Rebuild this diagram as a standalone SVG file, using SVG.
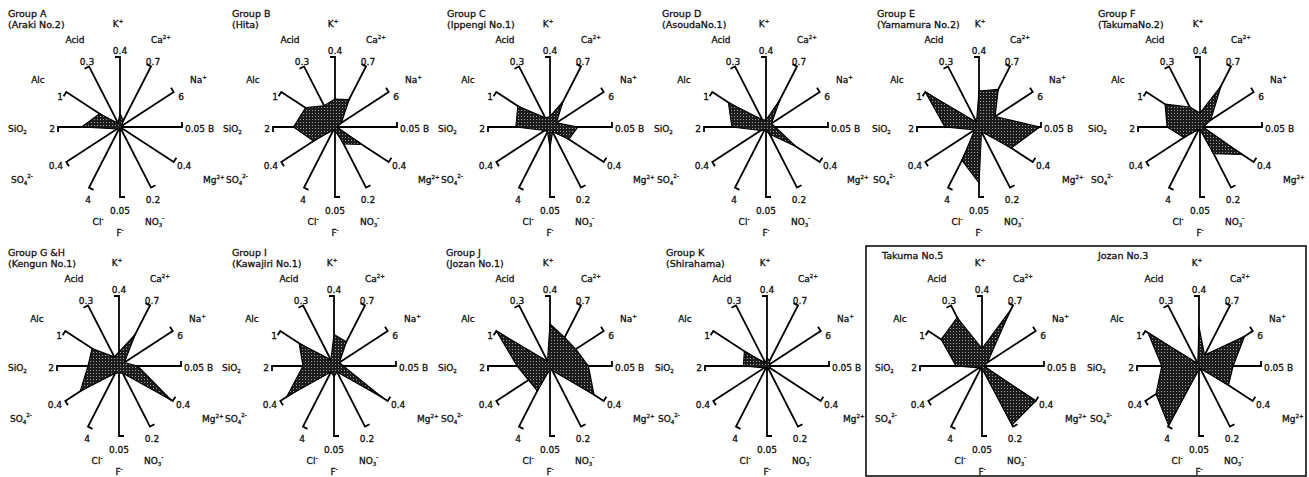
<svg xmlns="http://www.w3.org/2000/svg" xmlns:xlink="http://www.w3.org/1999/xlink" width="1309" height="477" viewBox="0 0 1309 477">
<style>
.t{font-family:"DejaVu Sans",sans-serif;font-size:9px;fill:#111;stroke:#111;stroke-width:0.3}
.m{text-anchor:middle}
.e{text-anchor:end}
.s{font-size:5.5px}
.ttl{font-family:"DejaVu Sans",sans-serif;font-size:9.5px;fill:#111;stroke:#111;stroke-width:0.3}
.ax{fill:none;stroke:#000;stroke-width:1.8}
.d{fill:url(#dots);stroke:#000;stroke-width:1.2;stroke-linejoin:round}
</style>
<defs>
<pattern id="dots" width="3" height="3" patternUnits="userSpaceOnUse"><rect width="3" height="3" fill="#1c1c1c"/><rect x="1" y="1" width="1" height="1" fill="#a0a0a0"/></pattern>
<path id="ax" class="ax" d="M0 0V-70h-5M0 0L31 -60.6l-4.5 -2.3M0 0L53.7 -35l-2.7 -4.2M0 0H62v-5M0 0L53.7 35l2.7 -4.2M0 0L31 60.6l4.5 -2.3M0 0V70h5M0 0L-31 60.6l4.5 2.3M0 0L-53.7 35l2.7 4.2M0 0H-62v5M0 0L-53.7 -35l-2.7 4.2M0 0L-31 -60.6l-4.5 2.3"/>
</defs>
<rect width="1309" height="477" fill="#fff"/>
<rect x="866" y="246" width="440" height="230" fill="none" stroke="#000" stroke-width="1.5"/>

<g id="chartA" transform="translate(120,127)">
<use href="#ax" xlink:href="#ax"/>
<polygon class="d" points="0,-14 3.1,-6.1 1.6,-1.1 1.9,0 1.6,1.1 0.9,1.8 0,2.8 -0.9,1.8 -2.7,1.8 -38.4,0 -20.4,-13.3 -1.9,-3.6"/>
<text class="ttl" x="-112" y="-110">Group A</text><text class="ttl" x="-112" y="-99">(Araki No.2)</text>
<text class="t m" x="-2" y="-100">K<tspan class="s" dy="-4">+</tspan></text>
<text class="t m" x="-45" y="-84">Acid</text>
<text class="t" x="31" y="-84">Ca<tspan class="s" dy="-4">2+</tspan></text>
<text class="t m" x="0" y="-73">0.4</text>
<text class="t m" x="-33" y="-62">0.3</text>
<text class="t m" x="33" y="-62">0.7</text>
<text class="t m" x="-82" y="-44">Alc</text>
<text class="t" x="70" y="-44">Na<tspan class="s" dy="-4">+</tspan></text>
<text class="t m" x="-60" y="-27">1</text>
<text class="t m" x="61" y="-27">6</text>
<text class="t" x="-112" y="5">SiO<tspan class="s" dy="2">2</tspan></text>
<text class="t m" x="-68" y="5">2</text>
<text class="t" x="65" y="5">0.05 B</text>
<text class="t e" x="-57" y="42">0.4</text>
<text class="t" x="57" y="42">0.4</text>
<text class="t" x="-109" y="56">SO<tspan class="s" dy="2">4</tspan><tspan class="s" dy="-7">2-</tspan></text>
<text class="t" x="83" y="56">Mg<tspan class="s" dy="-4">2+</tspan></text>
<text class="t m" x="-32" y="76">4</text>
<text class="t m" x="33" y="76">0.2</text>
<text class="t m" x="0" y="87">0.05</text>
<text class="t m" x="-22" y="98">Cl<tspan class="s" dy="-4">-</tspan></text>
<text class="t" x="25" y="98">NO<tspan class="s" dy="2">3</tspan><tspan class="s" dy="-7">-</tspan></text>
<text class="t m" x="0" y="109">F<tspan class="s" dy="-4">-</tspan></text>
</g>

<g id="chartB" transform="translate(335,127)">
<use href="#ax" xlink:href="#ax"/>
<polygon class="d" points="0,-28 14,-27.3 6.4,-4.2 1.9,0 26.9,17.5 8.7,17 0,3.5 -1.6,3 -21.5,14 -41.5,0 -29.5,-19.3 -10.9,-21.2"/>
<text class="ttl" x="-103" y="-110">Group B</text><text class="ttl" x="-103" y="-99">(Hita)</text>
<text class="t m" x="-2" y="-100">K<tspan class="s" dy="-4">+</tspan></text>
<text class="t m" x="-45" y="-84">Acid</text>
<text class="t" x="31" y="-84">Ca<tspan class="s" dy="-4">2+</tspan></text>
<text class="t m" x="0" y="-73">0.4</text>
<text class="t m" x="-33" y="-62">0.3</text>
<text class="t m" x="33" y="-62">0.7</text>
<text class="t m" x="-82" y="-44">Alc</text>
<text class="t" x="70" y="-44">Na<tspan class="s" dy="-4">+</tspan></text>
<text class="t m" x="-60" y="-27">1</text>
<text class="t m" x="61" y="-27">6</text>
<text class="t" x="-112" y="5">SiO<tspan class="s" dy="2">2</tspan></text>
<text class="t m" x="-68" y="5">2</text>
<text class="t" x="65" y="5">0.05 B</text>
<text class="t e" x="-57" y="42">0.4</text>
<text class="t" x="57" y="42">0.4</text>
<text class="t" x="-109" y="56">SO<tspan class="s" dy="2">4</tspan><tspan class="s" dy="-7">2-</tspan></text>
<text class="t" x="83" y="56">Mg<tspan class="s" dy="-4">2+</tspan></text>
<text class="t m" x="-32" y="76">4</text>
<text class="t m" x="33" y="76">0.2</text>
<text class="t m" x="0" y="87">0.05</text>
<text class="t m" x="-22" y="98">Cl<tspan class="s" dy="-4">-</tspan></text>
<text class="t" x="25" y="98">NO<tspan class="s" dy="2">3</tspan><tspan class="s" dy="-7">-</tspan></text>
<text class="t m" x="0" y="109">F<tspan class="s" dy="-4">-</tspan></text>
</g>

<g id="chartC" transform="translate(550,127)">
<use href="#ax" xlink:href="#ax"/>
<polygon class="d" points="0,-10.5 13,-25.5 6.4,-4.2 27.9,0 18.8,12.3 2.5,4.8 0,21 -2.5,4.8 -5.4,3.5 -34.1,0 -32.2,-21 -4.7,-9.1"/>
<text class="ttl" x="-103" y="-110">Group C</text><text class="ttl" x="-103" y="-99">(Ippengi No.1)</text>
<text class="t m" x="-2" y="-100">K<tspan class="s" dy="-4">+</tspan></text>
<text class="t m" x="-45" y="-84">Acid</text>
<text class="t" x="31" y="-84">Ca<tspan class="s" dy="-4">2+</tspan></text>
<text class="t m" x="0" y="-73">0.4</text>
<text class="t m" x="-33" y="-62">0.3</text>
<text class="t m" x="33" y="-62">0.7</text>
<text class="t m" x="-82" y="-44">Alc</text>
<text class="t" x="70" y="-44">Na<tspan class="s" dy="-4">+</tspan></text>
<text class="t m" x="-60" y="-27">1</text>
<text class="t m" x="61" y="-27">6</text>
<text class="t" x="-112" y="5">SiO<tspan class="s" dy="2">2</tspan></text>
<text class="t m" x="-68" y="5">2</text>
<text class="t" x="65" y="5">0.05 B</text>
<text class="t e" x="-57" y="42">0.4</text>
<text class="t" x="57" y="42">0.4</text>
<text class="t" x="-109" y="56">SO<tspan class="s" dy="2">4</tspan><tspan class="s" dy="-7">2-</tspan></text>
<text class="t" x="83" y="56">Mg<tspan class="s" dy="-4">2+</tspan></text>
<text class="t m" x="-32" y="76">4</text>
<text class="t m" x="33" y="76">0.2</text>
<text class="t m" x="0" y="87">0.05</text>
<text class="t m" x="-22" y="98">Cl<tspan class="s" dy="-4">-</tspan></text>
<text class="t" x="25" y="98">NO<tspan class="s" dy="2">3</tspan><tspan class="s" dy="-7">-</tspan></text>
<text class="t m" x="0" y="109">F<tspan class="s" dy="-4">-</tspan></text>
</g>

<g id="chartD" transform="translate(766,127)">
<use href="#ax" xlink:href="#ax"/>
<polygon class="d" points="0,-7 14,-27.3 5.4,-3.5 9.3,0 29.5,19.3 3.7,7.3 0,3.5 -1.6,3 -5.4,3.5 -34.1,0 -37.6,-24.5 -3.7,-7.3"/>
<text class="ttl" x="-104" y="-110">Group D</text><text class="ttl" x="-104" y="-99">(AsoudaNo.1)</text>
<text class="t m" x="-2" y="-100">K<tspan class="s" dy="-4">+</tspan></text>
<text class="t m" x="-45" y="-84">Acid</text>
<text class="t" x="31" y="-84">Ca<tspan class="s" dy="-4">2+</tspan></text>
<text class="t m" x="0" y="-73">0.4</text>
<text class="t m" x="-33" y="-62">0.3</text>
<text class="t m" x="33" y="-62">0.7</text>
<text class="t m" x="-82" y="-44">Alc</text>
<text class="t" x="70" y="-44">Na<tspan class="s" dy="-4">+</tspan></text>
<text class="t m" x="-60" y="-27">1</text>
<text class="t m" x="61" y="-27">6</text>
<text class="t" x="-112" y="5">SiO<tspan class="s" dy="2">2</tspan></text>
<text class="t m" x="-68" y="5">2</text>
<text class="t" x="65" y="5">0.05 B</text>
<text class="t e" x="-57" y="42">0.4</text>
<text class="t" x="57" y="42">0.4</text>
<text class="t" x="-109" y="56">SO<tspan class="s" dy="2">4</tspan><tspan class="s" dy="-7">2-</tspan></text>
<text class="t" x="81" y="56">Mg<tspan class="s" dy="-4">2+</tspan></text>
<text class="t m" x="-32" y="76">4</text>
<text class="t m" x="33" y="76">0.2</text>
<text class="t m" x="0" y="87">0.05</text>
<text class="t m" x="-22" y="98">Cl<tspan class="s" dy="-4">-</tspan></text>
<text class="t" x="25" y="98">NO<tspan class="s" dy="2">3</tspan><tspan class="s" dy="-7">-</tspan></text>
<text class="t m" x="0" y="109">F<tspan class="s" dy="-4">-</tspan></text>
</g>

<g id="chartE" transform="translate(979,127)">
<use href="#ax" xlink:href="#ax"/>
<polygon class="d" points="0,-36 19.2,-37.6 16.1,-10.5 60.8,0 32.2,21 2.5,4.8 0,56 -17,33.3 -4.3,2.8 -34.1,0 -53.7,-35 -2.5,-4.8"/>
<text class="ttl" x="-102" y="-110">Group E</text><text class="ttl" x="-102" y="-99">(Yamamura No.2)</text>
<text class="t m" x="1" y="-100">K<tspan class="s" dy="-4">+</tspan></text>
<text class="t m" x="-45" y="-84">Acid</text>
<text class="t" x="31" y="-84">Ca<tspan class="s" dy="-4">2+</tspan></text>
<text class="t m" x="0" y="-73">0.4</text>
<text class="t m" x="-33" y="-62">0.3</text>
<text class="t m" x="33" y="-62">0.7</text>
<text class="t m" x="-82" y="-44">Alc</text>
<text class="t" x="70" y="-44">Na<tspan class="s" dy="-4">+</tspan></text>
<text class="t m" x="-60" y="-27">1</text>
<text class="t m" x="61" y="-27">6</text>
<text class="t" x="-107" y="5">SiO<tspan class="s" dy="2">2</tspan></text>
<text class="t m" x="-68" y="5">2</text>
<text class="t" x="65" y="5">0.05 B</text>
<text class="t e" x="-57" y="42">0.4</text>
<text class="t" x="57" y="42">0.4</text>
<text class="t" x="-106" y="56">SO<tspan class="s" dy="2">4</tspan><tspan class="s" dy="-7">2-</tspan></text>
<text class="t" x="83" y="56">Mg<tspan class="s" dy="-4">2+</tspan></text>
<text class="t m" x="-32" y="76">4</text>
<text class="t m" x="33" y="76">0.2</text>
<text class="t m" x="0" y="87">0.05</text>
<text class="t m" x="-22" y="98">Cl<tspan class="s" dy="-4">-</tspan></text>
<text class="t" x="25" y="98">NO<tspan class="s" dy="2">3</tspan><tspan class="s" dy="-7">-</tspan></text>
<text class="t m" x="0" y="109">F<tspan class="s" dy="-4">-</tspan></text>
</g>

<g id="chartF" transform="translate(1200,127)">
<use href="#ax" xlink:href="#ax"/>
<polygon class="d" points="0,-14 21.1,-41.2 10.7,-7 3.1,0 41.9,27.3 13.6,26.7 0,2.8 -1.2,2.4 -16.1,10.5 -32.9,0 -34.9,-22.8 -10.2,-20"/>
<text class="ttl" x="-102" y="-110">Group F</text><text class="ttl" x="-102" y="-99">(TakumaNo.2)</text>
<text class="t m" x="-2" y="-100">K<tspan class="s" dy="-4">+</tspan></text>
<text class="t m" x="-45" y="-84">Acid</text>
<text class="t" x="31" y="-84">Ca<tspan class="s" dy="-4">2+</tspan></text>
<text class="t m" x="0" y="-73">0.4</text>
<text class="t m" x="-33" y="-62">0.3</text>
<text class="t m" x="33" y="-62">0.7</text>
<text class="t m" x="-82" y="-44">Alc</text>
<text class="t" x="70" y="-44">Na<tspan class="s" dy="-4">+</tspan></text>
<text class="t m" x="-60" y="-27">1</text>
<text class="t m" x="61" y="-27">6</text>
<text class="t" x="-112" y="5">SiO<tspan class="s" dy="2">2</tspan></text>
<text class="t m" x="-68" y="5">2</text>
<text class="t" x="65" y="5">0.05 B</text>
<text class="t e" x="-57" y="42">0.4</text>
<text class="t" x="57" y="42">0.4</text>
<text class="t" x="-109" y="56">SO<tspan class="s" dy="2">4</tspan><tspan class="s" dy="-7">2-</tspan></text>
<text class="t" x="83" y="56">Mg<tspan class="s" dy="-4">2+</tspan></text>
<text class="t m" x="-32" y="76">4</text>
<text class="t m" x="33" y="76">0.2</text>
<text class="t m" x="0" y="87">0.05</text>
<text class="t m" x="-22" y="98">Cl<tspan class="s" dy="-4">-</tspan></text>
<text class="t" x="25" y="98">NO<tspan class="s" dy="2">3</tspan><tspan class="s" dy="-7">-</tspan></text>
<text class="t m" x="0" y="109">F<tspan class="s" dy="-4">-</tspan></text>
</g>

<g id="chartG" transform="translate(119,366)">
<use href="#ax" xlink:href="#ax"/>
<polygon class="d" points="0,-14 16.1,-31.5 5.4,-3.5 18.6,0 52.6,34.3 3.7,7.3 0,7 -3.7,7.3 -38.7,25.2 -31,0 -26.9,-17.5 -4.7,-9.1"/>
<text class="ttl" x="-111" y="-110">Group G &amp;H</text><text class="ttl" x="-111" y="-99">(Kengun No.1)</text>
<text class="t m" x="-2" y="-100">K<tspan class="s" dy="-4">+</tspan></text>
<text class="t m" x="-45" y="-84">Acid</text>
<text class="t" x="31" y="-84">Ca<tspan class="s" dy="-4">2+</tspan></text>
<text class="t m" x="0" y="-73">0.4</text>
<text class="t m" x="-33" y="-62">0.3</text>
<text class="t m" x="33" y="-62">0.7</text>
<text class="t m" x="-82" y="-44">Alc</text>
<text class="t" x="70" y="-44">Na<tspan class="s" dy="-4">+</tspan></text>
<text class="t m" x="-60" y="-27">1</text>
<text class="t m" x="61" y="-27">6</text>
<text class="t" x="-111" y="5">SiO<tspan class="s" dy="2">2</tspan></text>
<text class="t m" x="-68" y="5">2</text>
<text class="t" x="65" y="5">0.05 B</text>
<text class="t e" x="-57" y="42">0.4</text>
<text class="t" x="57" y="42">0.4</text>
<text class="t" x="-109" y="56">SO<tspan class="s" dy="2">4</tspan><tspan class="s" dy="-7">2-</tspan></text>
<text class="t" x="83" y="56">Mg<tspan class="s" dy="-4">2+</tspan></text>
<text class="t m" x="-32" y="76">4</text>
<text class="t m" x="33" y="76">0.2</text>
<text class="t m" x="0" y="87">0.05</text>
<text class="t m" x="-22" y="98">Cl<tspan class="s" dy="-4">-</tspan></text>
<text class="t" x="25" y="98">NO<tspan class="s" dy="2">3</tspan><tspan class="s" dy="-7">-</tspan></text>
<text class="t m" x="0" y="109">F<tspan class="s" dy="-4">-</tspan></text>
</g>

<g id="chartI" transform="translate(334,366)">
<use href="#ax" xlink:href="#ax"/>
<polygon class="d" points="0,-31.5 12.4,-24.2 5.4,-3.5 9.3,0 48.3,31.5 3.1,6.1 0,10.5 -3.1,6.1 -47.3,30.8 -31,0 -34.9,-22.8 -3.1,-6.1"/>
<text class="ttl" x="-102" y="-110">Group I</text><text class="ttl" x="-102" y="-99">(Kawajiri No.1)</text>
<text class="t m" x="-2" y="-100">K<tspan class="s" dy="-4">+</tspan></text>
<text class="t m" x="-45" y="-84">Acid</text>
<text class="t" x="31" y="-84">Ca<tspan class="s" dy="-4">2+</tspan></text>
<text class="t m" x="0" y="-73">0.4</text>
<text class="t m" x="-33" y="-62">0.3</text>
<text class="t m" x="33" y="-62">0.7</text>
<text class="t m" x="-82" y="-44">Alc</text>
<text class="t" x="70" y="-44">Na<tspan class="s" dy="-4">+</tspan></text>
<text class="t m" x="-60" y="-27">1</text>
<text class="t m" x="61" y="-27">6</text>
<text class="t" x="-112" y="5">SiO<tspan class="s" dy="2">2</tspan></text>
<text class="t m" x="-68" y="5">2</text>
<text class="t" x="65" y="5">0.05 B</text>
<text class="t e" x="-57" y="42">0.4</text>
<text class="t" x="57" y="42">0.4</text>
<text class="t" x="-109" y="56">SO<tspan class="s" dy="2">4</tspan><tspan class="s" dy="-7">2-</tspan></text>
<text class="t" x="83" y="56">Mg<tspan class="s" dy="-4">2+</tspan></text>
<text class="t m" x="-32" y="76">4</text>
<text class="t m" x="33" y="76">0.2</text>
<text class="t m" x="0" y="87">0.05</text>
<text class="t m" x="-22" y="98">Cl<tspan class="s" dy="-4">-</tspan></text>
<text class="t" x="25" y="98">NO<tspan class="s" dy="2">3</tspan><tspan class="s" dy="-7">-</tspan></text>
<text class="t m" x="0" y="109">F<tspan class="s" dy="-4">-</tspan></text>
</g>

<g id="chartJ" transform="translate(550,366)">
<use href="#ax" xlink:href="#ax"/>
<polygon class="d" points="0,-42 14.6,-28.5 25.8,-16.8 38.4,0 44,28.7 2.5,4.8 0,3.5 -12.7,24.8 -21.5,14 -32.9,0 -53.7,-35 -2.5,-4.8"/>
<text class="ttl" x="-104" y="-110">Group J</text><text class="ttl" x="-104" y="-99">(Jozan No.1)</text>
<text class="t m" x="-2" y="-100">K<tspan class="s" dy="-4">+</tspan></text>
<text class="t m" x="-45" y="-84">Acid</text>
<text class="t" x="31" y="-84">Ca<tspan class="s" dy="-4">2+</tspan></text>
<text class="t m" x="0" y="-73">0.4</text>
<text class="t m" x="-33" y="-62">0.3</text>
<text class="t m" x="33" y="-62">0.7</text>
<text class="t m" x="-82" y="-44">Alc</text>
<text class="t" x="70" y="-44">Na<tspan class="s" dy="-4">+</tspan></text>
<text class="t m" x="-60" y="-27">1</text>
<text class="t m" x="61" y="-27">6</text>
<text class="t" x="-112" y="5">SiO<tspan class="s" dy="2">2</tspan></text>
<text class="t m" x="-68" y="5">2</text>
<text class="t" x="65" y="5">0.05 B</text>
<text class="t e" x="-57" y="42">0.4</text>
<text class="t" x="57" y="42">0.4</text>
<text class="t" x="-109" y="56">SO<tspan class="s" dy="2">4</tspan><tspan class="s" dy="-7">2-</tspan></text>
<text class="t" x="83" y="56">Mg<tspan class="s" dy="-4">2+</tspan></text>
<text class="t m" x="-32" y="76">4</text>
<text class="t m" x="33" y="76">0.2</text>
<text class="t m" x="0" y="87">0.05</text>
<text class="t m" x="-22" y="98">Cl<tspan class="s" dy="-4">-</tspan></text>
<text class="t" x="25" y="98">NO<tspan class="s" dy="2">3</tspan><tspan class="s" dy="-7">-</tspan></text>
<text class="t m" x="0" y="109">F<tspan class="s" dy="-4">-</tspan></text>
</g>

<g id="chartK" transform="translate(767,366)">
<use href="#ax" xlink:href="#ax"/>
<polygon class="d" points="0,-8.4 2.5,-4.8 2.7,-1.8 3.7,0 3.2,2.1 0.9,1.8 0,2.1 -0.9,1.8 -2.7,1.8 -23.6,0 -22.6,-14.7 -1.6,-3"/>
<text class="ttl" x="-101" y="-110">Group K</text><text class="ttl" x="-101" y="-99">(Shirahama)</text>
<text class="t m" x="-2" y="-100">K<tspan class="s" dy="-4">+</tspan></text>
<text class="t m" x="-45" y="-84">Acid</text>
<text class="t" x="31" y="-84">Ca<tspan class="s" dy="-4">2+</tspan></text>
<text class="t m" x="0" y="-73">0.4</text>
<text class="t m" x="-33" y="-62">0.3</text>
<text class="t m" x="33" y="-62">0.7</text>
<text class="t m" x="-82" y="-44">Alc</text>
<text class="t" x="70" y="-44">Na<tspan class="s" dy="-4">+</tspan></text>
<text class="t m" x="-60" y="-27">1</text>
<text class="t m" x="61" y="-27">6</text>
<text class="t" x="-112" y="5">SiO<tspan class="s" dy="2">2</tspan></text>
<text class="t m" x="-68" y="5">2</text>
<text class="t" x="65" y="5">0.05 B</text>
<text class="t e" x="-57" y="42">0.4</text>
<text class="t" x="57" y="42">0.4</text>
<text class="t" x="-109" y="56">SO<tspan class="s" dy="2">4</tspan><tspan class="s" dy="-7">2-</tspan></text>
<text class="t" x="76" y="56">Mg<tspan class="s" dy="-4">2+</tspan></text>
<text class="t m" x="-32" y="76">4</text>
<text class="t m" x="33" y="76">0.2</text>
<text class="t m" x="0" y="87">0.05</text>
<text class="t m" x="-22" y="98">Cl<tspan class="s" dy="-4">-</tspan></text>
<text class="t" x="25" y="98">NO<tspan class="s" dy="2">3</tspan><tspan class="s" dy="-7">-</tspan></text>
<text class="t m" x="0" y="109">F<tspan class="s" dy="-4">-</tspan></text>
</g>

<g id="chartTakuma5" transform="translate(982,366)">
<use href="#ax" xlink:href="#ax"/>
<polygon class="d" points="0,-17.5 28.8,-56.4 5.4,-3.5 1.9,0 53.7,35 30.1,58.8 0,2.8 -0.9,1.8 -2.7,1.8 -26,0 -40.8,-26.6 -24.8,-48.5"/>
<text class="ttl" x="-100" y="-107">Takuma No.5</text>
<text class="t m" x="-2" y="-100">K<tspan class="s" dy="-4">+</tspan></text>
<text class="t m" x="-45" y="-84">Acid</text>
<text class="t" x="31" y="-84">Ca<tspan class="s" dy="-4">2+</tspan></text>
<text class="t m" x="0" y="-73">0.4</text>
<text class="t m" x="-33" y="-62">0.3</text>
<text class="t m" x="33" y="-62">0.7</text>
<text class="t m" x="-82" y="-44">Alc</text>
<text class="t" x="70" y="-44">Na<tspan class="s" dy="-4">+</tspan></text>
<text class="t m" x="-60" y="-27">1</text>
<text class="t m" x="61" y="-27">6</text>
<text class="t" x="-107" y="5">SiO<tspan class="s" dy="2">2</tspan></text>
<text class="t m" x="-68" y="5">2</text>
<text class="t" x="65" y="5">0.05 B</text>
<text class="t e" x="-57" y="42">0.4</text>
<text class="t" x="57" y="42">0.4</text>
<text class="t" x="-107" y="56">SO<tspan class="s" dy="2">4</tspan><tspan class="s" dy="-7">2-</tspan></text>
<text class="t" x="83" y="56">Mg<tspan class="s" dy="-4">2+</tspan></text>
<text class="t m" x="-32" y="76">4</text>
<text class="t m" x="33" y="76">0.2</text>
<text class="t m" x="0" y="87">0.05</text>
<text class="t m" x="-22" y="98">Cl<tspan class="s" dy="-4">-</tspan></text>
<text class="t" x="25" y="98">NO<tspan class="s" dy="2">3</tspan><tspan class="s" dy="-7">-</tspan></text>
<text class="t m" x="0" y="109">F<tspan class="s" dy="-4">-</tspan></text>
</g>

<g id="chartJozan3" transform="translate(1199,366)">
<use href="#ax" xlink:href="#ax"/>
<polygon class="d" points="0,-39.2 5.6,-10.9 45.6,-29.8 34.1,0 29.5,19.3 1.2,2.4 0,3.5 -30.4,59.4 -43,28 -37.2,0 -51,-33.3 -1.2,-2.4"/>
<text class="ttl" x="-101" y="-107">Jozan No.3</text>
<text class="t m" x="-2" y="-100">K<tspan class="s" dy="-4">+</tspan></text>
<text class="t m" x="-45" y="-84">Acid</text>
<text class="t" x="31" y="-84">Ca<tspan class="s" dy="-4">2+</tspan></text>
<text class="t m" x="0" y="-73">0.4</text>
<text class="t m" x="-33" y="-62">0.3</text>
<text class="t m" x="33" y="-62">0.7</text>
<text class="t m" x="-82" y="-44">Alc</text>
<text class="t" x="70" y="-44">Na<tspan class="s" dy="-4">+</tspan></text>
<text class="t m" x="-60" y="-27">1</text>
<text class="t m" x="61" y="-27">6</text>
<text class="t" x="-112" y="5">SiO<tspan class="s" dy="2">2</tspan></text>
<text class="t m" x="-68" y="5">2</text>
<text class="t" x="65" y="5">0.05 B</text>
<text class="t e" x="-57" y="42">0.4</text>
<text class="t" x="57" y="42">0.4</text>
<text class="t" x="-109" y="56">SO<tspan class="s" dy="2">4</tspan><tspan class="s" dy="-7">2-</tspan></text>
<text class="t" x="83" y="56">Mg<tspan class="s" dy="-4">2+</tspan></text>
<text class="t m" x="-32" y="76">4</text>
<text class="t m" x="33" y="76">0.2</text>
<text class="t m" x="0" y="87">0.05</text>
<text class="t m" x="-22" y="98">Cl<tspan class="s" dy="-4">-</tspan></text>
<text class="t" x="25" y="98">NO<tspan class="s" dy="2">3</tspan><tspan class="s" dy="-7">-</tspan></text>
<text class="t m" x="0" y="109">F<tspan class="s" dy="-4">-</tspan></text>
</g>
</svg>
